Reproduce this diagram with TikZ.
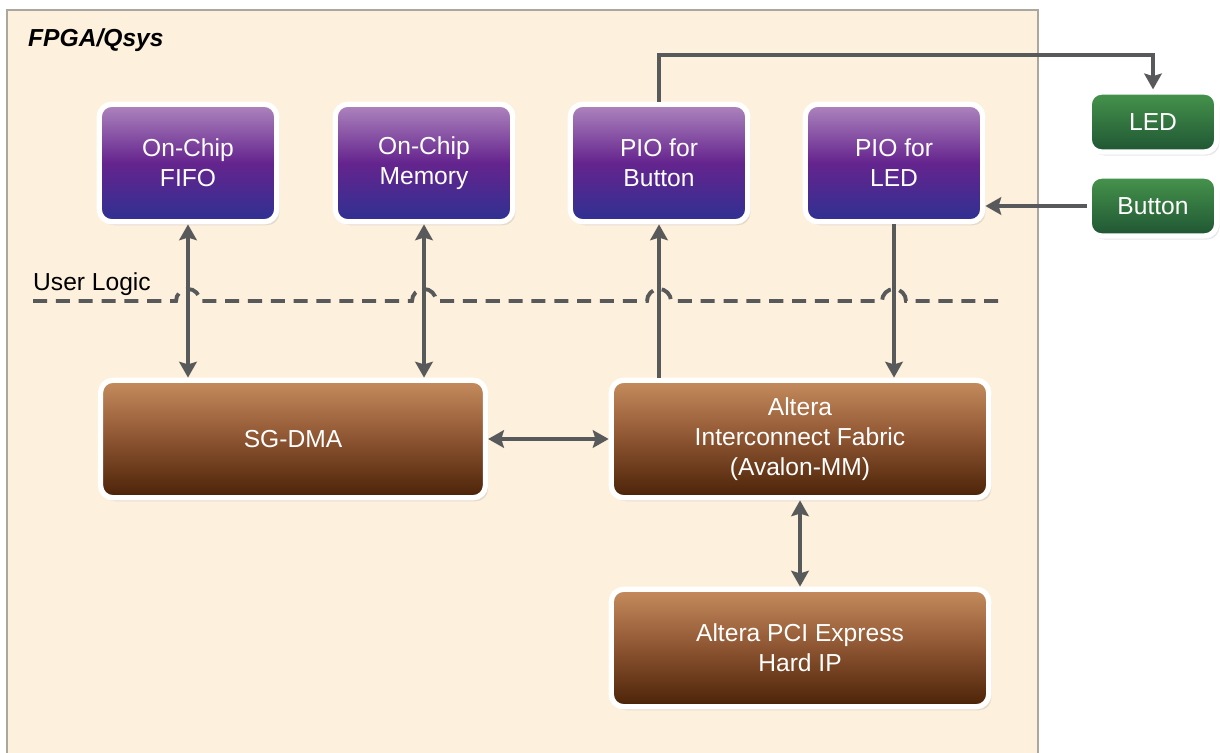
\documentclass[tikz,border=0pt]{standalone}
\usepackage{fontspec}
\setmainfont{Liberation Sans}
\usepackage{tikz}
\usetikzlibrary{arrows.meta, positioning, shadows}
\definecolor{qsysbg}{HTML}{FDF0DC}
\definecolor{qsysframe}{HTML}{ABA79F}
\definecolor{purtop}{HTML}{AE86BE}
\definecolor{purmid}{HTML}{65248E}
\definecolor{purbot}{HTML}{2E3192}
\definecolor{brntop}{HTML}{C68C5E}
\definecolor{brnmid}{HTML}{8C5431}
\definecolor{brnbot}{HTML}{4B2207}
\definecolor{grntop}{HTML}{46944C}
\definecolor{grnbot}{HTML}{1F5533}
\definecolor{wire}{HTML}{58595B}

\begin{document}
\begin{tikzpicture}[x=0.02cm, y=-0.02cm,
    box/.style={draw=white, line width=3pt, rounded corners=7pt, align=center, text=white,
        font=\fontsize{14}{17}\selectfont,
        drop shadow={opacity=0.18, shadow xshift=1.5pt, shadow yshift=-2pt}},
    purplebox/.style={box, top color=purtop, bottom color=purbot, middle color=purmid,
        minimum width=3.55cm, minimum height=2.35cm},
    brownbox/.style={box, top color=brntop, bottom color=brnbot, middle color=brnmid,
        minimum height=2.35cm},
    greenbox/.style={box, top color=grntop, bottom color=grnbot,
        minimum width=2.55cm, minimum height=1.2cm},
    tip/.style={-{Stealth[length=9pt, width=10pt, inset=1.5pt]}, line width=2.2pt, wire},
    both/.style={{Stealth[length=9pt, width=10pt, inset=1.5pt]}-{Stealth[length=9pt, width=10pt, inset=1.5pt]}, line width=2.2pt, wire}]
    \useasboundingbox (0,0) rectangle (1220,753);
    \draw[qsysframe, fill=qsysbg, line width=0.8pt] (7,10) rectangle (1038,760);
    \node[anchor=west, font=\fontsize{14}{17}\selectfont\bfseries\itshape] (title) at (22,40) {FPGA/Qsys};

    % on-chip parts
    \node[purplebox] (fifo) at (188,163) {On-Chip\\FIFO};
    \node[purplebox] (mem) at (424,163) {On-Chip\\Memory};
    \node[purplebox] (pbtn) at (659,163) {PIO for\\Button};
    \node[purplebox] (pled) at (894,163) {PIO for\\LED};
    \node[brownbox, minimum width=7.7cm] (dma) at (293,439) {SG-DMA};
    \node[brownbox, minimum width=7.55cm] (fabric) at (800,439) {Altera\\Interconnect Fabric\\(Avalon-MM)};
    \node[brownbox, minimum width=7.55cm] (pcie) at (800,648) {Altera PCI Express\\Hard IP};

    % board parts
    \node[greenbox] (led) at (1153,122) {LED};
    \node[greenbox] (btn) at (1153,206) {Button};

    % user logic boundary
    \node[anchor=west, font=\fontsize{14}{17}\selectfont] (ulogic) at (27,284) {User Logic};
    \draw[wire, line width=2.2pt, dash pattern=on 8pt off 5pt]
        (33,301) -- (176,301) arc[start angle=180, end angle=0, radius=0.24cm]
        -- (412,301) arc[start angle=180, end angle=0, radius=0.24cm]
        -- (647,301) arc[start angle=180, end angle=0, radius=0.24cm]
        -- (882,301) arc[start angle=180, end angle=0, radius=0.24cm]
        -- (1000,301);

    % connections
    \draw[both] (fifo.south) -- (fifo.south |- dma.north);
    \draw[both] (mem.south) -- (mem.south |- dma.north);
    \draw[tip] (pbtn.south |- fabric.north) -- (pbtn.south);
    \draw[tip] (pled.south) -- (pled.south |- fabric.north);
    \draw[both] (dma.east) -- (fabric.west);
    \draw[both] (fabric.south) -- (pcie.north);
    \coordinate (ledrun) at (0,55);
    \draw[tip] (pbtn.north) -- (pbtn.north |- ledrun) -| (led.north);
    \draw[tip] (btn.west) -- (pled.east |- btn.west);
\end{tikzpicture}
\end{document}
